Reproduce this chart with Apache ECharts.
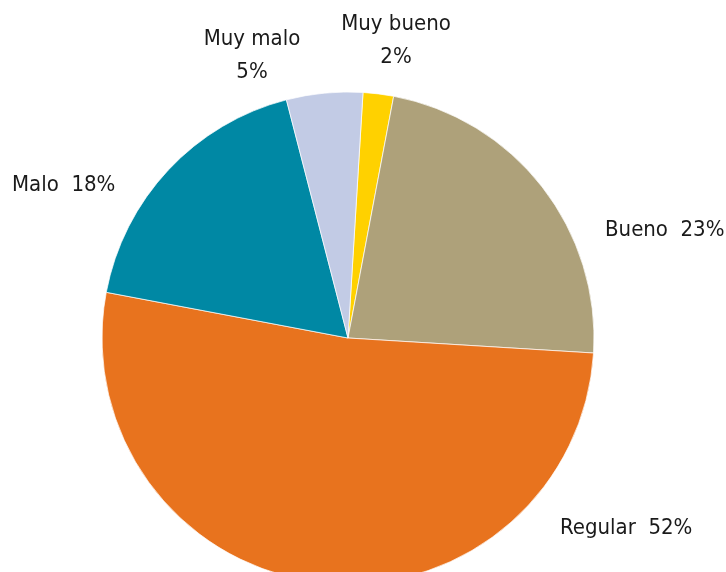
<!DOCTYPE html>
<html>
<head>
<meta charset="utf-8">
<script src="https://cdn.jsdelivr.net/npm/echarts@6/dist/echarts.min.js"></script>
<style>
  html, body { margin: 0; padding: 0; background: #ffffff; }
  #chart { width: 726px; height: 572px; }
</style>
</head>
<body>
<div id="chart"></div>
<script>
// Valoración: share of answers per category (%)
const categories = ['Muy bueno', 'Bueno', 'Regular', 'Malo', 'Muy malo'];
const shares = [2, 23, 52, 18, 5];
const sliceColors = ['#FFD100', '#AEA17A', '#E8731E', '#0088A4', '#C2CBE5'];

// Label anchors (x, y, horizontal alignment, stacked on two lines?)
const labelPlacement = [
  { x: 396, y: 41, align: 'center', stacked: true },
  { x: 605, y: 230, align: 'left', stacked: false },
  { x: 560, y: 528, align: 'left', stacked: false },
  { x: 12, y: 185, align: 'left', stacked: false },
  { x: 252, y: 56, align: 'center', stacked: true }
];

const chart = echarts.init(document.getElementById('chart'), null, { renderer: 'canvas' });

chart.setOption({
  animation: false,
  backgroundColor: '#ffffff',
  series: [{
    type: 'pie',
    center: [348, 338],
    radius: 246,
    startAngle: 86.5,
    clockwise: true,
    avoidLabelOverlap: false,
    data: categories.map((name, i) => ({
      name: name,
      value: shares[i],
      itemStyle: { color: sliceColors[i] }
    })),
    itemStyle: { borderColor: '#ffffff', borderWidth: 0.7 },
    label: {
      show: true,
      position: 'outside',
      color: '#1a1a1a',
      fontFamily: '"Liberation Sans Narrow", "DejaVu Sans Condensed", "Roboto", sans-serif',
      fontSize: 22,
      lineHeight: 33,
      formatter: p => labelPlacement[p.dataIndex].stacked
        ? p.name + '\n' + p.value + '%'
        : p.name + '  ' + p.value + '%'
    },
    labelLine: { show: false },
    labelLayout: p => {
      const pl = labelPlacement[p.dataIndex];
      return { x: pl.x, y: pl.y, align: pl.align, verticalAlign: 'middle' };
    },
    emphasis: { disabled: true }
  }]
});
</script>
</body>
</html>
